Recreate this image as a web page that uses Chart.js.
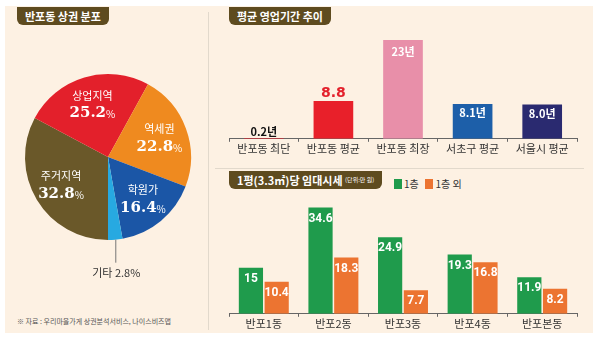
<!DOCTYPE html>
<html>
<head>
<meta charset="utf-8">
<script src="https://cdn.jsdelivr.net/npm/chart.js@4"></script>
<style>
  body { margin: 0; background: #fff; width: 600px; height: 342px; overflow: hidden; position: relative;
         font-family: "Noto Sans CJK KR", "Noto Sans", sans-serif; }
  #panel { position: absolute; left: 5px; top: 6px; width: 588px; height: 327px; background: #fdf1e3; }
  .title { position: absolute; background: #5e4b1f; color: #fff; font-weight: bold; font-size: 11px;
           line-height: 18px; padding: 0 8px; border-radius: 0 0 6px 6px; white-space: nowrap; }
  .title small { font-size: 6px; font-weight: normal; vertical-align: top; }
  .vline { position: absolute; left: 208px; top: 12px; width: 1px; height: 318px; background: #e2d9cc; }
  .hline { position: absolute; left: 215px; top: 168px; width: 369px; height: 1px; background: #e2d9cc; }
  canvas { position: absolute; }
  #legend { position: absolute; left: 394px; top: 176px; font-size: 10px; color: #333; white-space: nowrap; }
  #legend span.box { display: inline-block; width: 8px; height: 10px; vertical-align: -1px; margin-right: 2px; }
  #source { position: absolute; left: 17px; top: 316px; font-size: 7px; color: #555; white-space: nowrap; }
</style>
</head>
<body>
<div id="panel"></div>
<div class="vline"></div>
<div class="hline"></div>
<div class="title" style="left:17px; top:7px;">반포동 상권 분포</div>
<div class="title" style="left:229px; top:7px;">평균 영업기간 추이</div>
<div class="title" style="left:229px; top:171px;">1평(3.3㎡)당 임대시세 <small>(단위:만 원)</small></div>
<div id="legend"><span class="box" style="background:#1f9b4c"></span>1층&nbsp;&nbsp;&nbsp;<span class="box" style="background:#ec7431"></span>1층 외</div>
<div id="source">※ 자료 : 우리마을가게 상권분석서비스, 나이스비즈맵</div>

<canvas id="pie" width="200" height="260" style="left:8px; top:60px; width:200px; height:260px;"></canvas>
<canvas id="period" width="380" height="125" style="left:215px; top:30px; width:380px; height:125px;"></canvas>
<canvas id="rent" width="380" height="150" style="left:215px; top:180px; width:380px; height:150px;"></canvas>

<script>
// pie data
var areaNames = ['주거지역', '상업지역', '역세권', '학원가', '기타'];
var areaShares = [32.8, 25.2, 22.8, 16.4, 2.8];
var areaColors = ['#6a5829', '#e3202b', '#ef8a1f', '#1b56a6', '#27a9e1'];

// average business period
var periodNames = ['반포동 최단', '반포동 평균', '반포동 최장', '서초구 평균', '서울시 평균'];
var periodYears = [0.2, 8.8, 23, 8.1, 8.0];
var periodLabels = ['0.2년', '8.8', '23년', '8.1년', '8.0년'];
var periodColors = ['#e3202b', '#e8202a', '#e88fa9', '#1d5fa9', '#2a2a70'];

// rent per pyeong
var dongNames = ['반포1동', '반포2동', '반포3동', '반포4동', '반포본동'];
var firstFloor = [15, 34.6, 24.9, 19.3, 11.9];
var otherFloor = [10.4, 18.3, 7.7, 16.8, 8.2];

var korFont = '"Noto Sans CJK KR", "Noto Sans", sans-serif';

// pie labels
var pieLabels = {
  id: 'pieLabels',
  afterDatasetsDraw: function(chart) {
    var ctx = chart.ctx;
    var arcs = chart.getDatasetMeta(0).data;
    ctx.save();
    ctx.textAlign = 'center';
    ctx.textBaseline = 'middle';
    arcs.forEach(function(arc, i) {
      var mid = (arc.startAngle + arc.endAngle) / 2;
      if (i === 4) {
        var bx = arc.x + Math.cos(mid) * arc.outerRadius;
        var by = arc.y + Math.sin(mid) * arc.outerRadius;
        ctx.strokeStyle = '#777';
        ctx.lineWidth = 1;
        ctx.beginPath();
        ctx.moveTo(bx + 0.5, by);
        ctx.lineTo(bx + 0.5, by + 23);
        ctx.stroke();
        ctx.fillStyle = '#333';
        ctx.font = '11px ' + korFont;
        ctx.fillText(areaNames[i] + ' ' + areaShares[i] + '%', bx + 1, by + 33);
        return;
      }
      var r = arc.outerRadius * 0.66;
      var x = arc.x + Math.cos(mid) * r;
      var y = arc.y + Math.sin(mid) * r;
      ctx.fillStyle = '#fff';
      ctx.font = '11px ' + korFont;
      ctx.fillText(areaNames[i], x, y - 9);
      var num = areaShares[i].toFixed(1);
      ctx.font = 'bold 15px "DejaVu Serif", serif';
      var w1 = ctx.measureText(num).width;
      ctx.font = '10px ' + korFont;
      var w2 = ctx.measureText('%').width;
      var sx = x - (w1 + w2) / 2;
      ctx.textAlign = 'left';
      ctx.font = 'bold 15px "DejaVu Serif", serif';
      ctx.fillText(num, sx, y + 9);
      ctx.font = '10px ' + korFont;
      ctx.fillText('%', sx + w1, y + 10);
      ctx.textAlign = 'center';
    });
    ctx.restore();
  }
};

new Chart(document.getElementById('pie'), {
  type: 'pie',
  data: {
    labels: areaNames,
    datasets: [{ data: areaShares, backgroundColor: areaColors, borderWidth: 0 }]
  },
  options: {
    responsive: false,
    animation: false,
    rotation: 180,
    layout: { padding: { top: 14, left: 17, right: 17, bottom: 80 } },
    plugins: { legend: { display: false }, tooltip: { enabled: false } }
  },
  plugins: [pieLabels]
});

// period bar labels
var periodValueLabels = {
  id: 'periodValueLabels',
  afterDatasetsDraw: function(chart) {
    var ctx = chart.ctx;
    var bars = chart.getDatasetMeta(0).data;
    ctx.save();
    ctx.textAlign = 'center';
    bars.forEach(function(bar, i) {
      if (i === 0) {
        ctx.fillStyle = '#111';
        ctx.font = 'bold 11px ' + korFont;
        ctx.textBaseline = 'bottom';
        ctx.fillText(periodLabels[i], bar.x, bar.y - 1);
      } else if (i === 1) {
        ctx.fillStyle = '#e3202b';
        ctx.font = 'bold 14px "DejaVu Sans", sans-serif';
        ctx.textBaseline = 'bottom';
        ctx.fillText(periodLabels[i], bar.x, bar.y - 1);
      } else {
        ctx.fillStyle = '#fff';
        ctx.font = 'bold 11px ' + korFont;
        ctx.textBaseline = 'middle';
        ctx.fillText(periodLabels[i], bar.x, bar.y + (i === 2 ? 12 : 9));
      }
    });
    ctx.restore();
  }
};

new Chart(document.getElementById('period'), {
  type: 'bar',
  data: {
    labels: periodNames,
    datasets: [{ data: periodYears, backgroundColor: periodColors, barPercentage: 0.57, categoryPercentage: 1 }]
  },
  options: {
    responsive: false,
    animation: false,
    layout: { padding: { left: 14, right: 18, top: 10 } },
    scales: {
      x: {
        grid: { display: true, drawOnChartArea: false, offset: true, tickLength: 3, color: '#666' },
        border: { display: true, color: '#666', width: 1 },
        ticks: { color: '#333', font: { family: korFont, size: 11 }, padding: 0 }
      },
      y: { display: false, min: 0, max: 23 }
    },
    plugins: { legend: { display: false }, tooltip: { enabled: false } }
  },
  plugins: [periodValueLabels]
});

// rent bar labels
var rentValueLabels = {
  id: 'rentValueLabels',
  afterDatasetsDraw: function(chart) {
    var ctx = chart.ctx;
    ctx.save();
    ctx.textAlign = 'center';
    ctx.textBaseline = 'middle';
    ctx.fillStyle = '#fff';
    ctx.font = 'bold 12px "Liberation Sans Narrow", "Roboto", sans-serif';
    chart.data.datasets.forEach(function(ds, d) {
      chart.getDatasetMeta(d).data.forEach(function(bar, i) {
        ctx.fillText(String(ds.data[i]), bar.x, bar.y + 11);
      });
    });
    ctx.restore();
  }
};

new Chart(document.getElementById('rent'), {
  type: 'bar',
  data: {
    labels: dongNames,
    datasets: [
      { label: '1층', data: firstFloor, backgroundColor: '#1f9b4c', barPercentage: 0.94, categoryPercentage: 0.74 },
      { label: '1층 외', data: otherFloor, backgroundColor: '#ec7431', barPercentage: 0.94, categoryPercentage: 0.74 }
    ]
  },
  options: {
    responsive: false,
    animation: false,
    layout: { padding: { left: 14, right: 18, top: 11 } },
    scales: {
      x: {
        grid: { display: true, drawOnChartArea: false, offset: true, tickLength: 3, color: '#666' },
        border: { display: true, color: '#666', width: 1 },
        ticks: { color: '#333', font: { family: korFont, size: 11 }, padding: 0 }
      },
      y: { display: false, min: 0, max: 40 }
    },
    plugins: { legend: { display: false }, tooltip: { enabled: false } }
  },
  plugins: [rentValueLabels]
});
</script>
</body>
</html>
